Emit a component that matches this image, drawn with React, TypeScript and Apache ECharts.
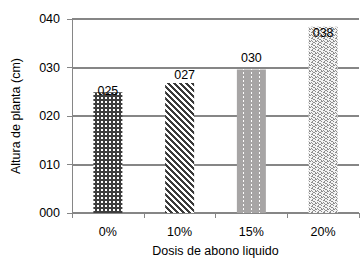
import React, { useEffect, useRef } from "react";
import * as echarts from "echarts";

const categories = ["0%", "10%", "15%", "20%"];
const heights = [24.9, 26.8, 29.6, 38.4];
const yMin = 0;
const yMax = 40;
const yStep = 10;
const xTitle = "Dosis de abono liquido";
const yTitle = "Altura de planta (cm)";

const FONT = "Liberation Sans, Arial, sans-serif";

function makeTile(rows: string[], colors: Record<string, string>): HTMLCanvasElement {
  const h = rows.length;
  const w = rows[0].length;
  const c = document.createElement("canvas");
  c.width = w;
  c.height = h;
  const ctx = c.getContext("2d")!;
  for (let y = 0; y < h; y++) {
    for (let x = 0; x < w; x++) {
      ctx.fillStyle = colors[rows[y][x]];
      ctx.fillRect(x, y, 1, 1);
    }
  }
  return c;
}

function patterns() {
  const p1 = makeTile(["DDDD", "DWWD", "DWWD", "DDDD"], { D: "#3e3e3e", W: "#ffffff" });
  const p2 = makeTile(
    ["DDDWWW", "WDDDWW", "WWDDDW", "WWWDDD", "DWWWDD", "DDWWWD"],
    { D: "#3a3a3a", W: "#ffffff" }
  );
  const p3 = makeTile(["GGGWGGGG", "GGGWGGGG", "GGGGGGGG", "GGGGGGGG"], {
    G: "#a7a5a5",
    W: "#ffffff",
  });
  const p4 = makeTile(
    ["WGGWWW", "GWWGWW", "GWWWWG", "WGGWWW", "WWWGWG", "GWWGGW"],
    { G: "#8e8e8e", W: "#f4f4f4" }
  );
  return [p1, p2, p3, p4];
}

const labelOffsets = [
  [0, 5],
  [5, -2],
  [0, -5],
  [0, 13],
];

const pad3 = (v: number) => String(Math.round(v)).padStart(3, "0");

export default function App() {
  const ref = useRef<HTMLDivElement>(null);
  useEffect(() => {
    if (!ref.current) return;
    const chart = echarts.init(ref.current, undefined, { renderer: "svg" });
    const pats = patterns();
    chart.setOption({
      animation: false,
      backgroundColor: "#ffffff",
      grid: { left: 72, right: 5, top: 19, bottom: 48 },
      xAxis: {
        type: "category",
        data: categories,
        name: xTitle,
        nameLocation: "middle",
        nameGap: 31,
        nameTextStyle: { fontFamily: FONT, fontSize: 12.5, color: "#000" },
        axisLine: { lineStyle: { color: "#868686", width: 1 } },
        axisTick: { show: true, length: 5, lineStyle: { color: "#868686" } },
        axisLabel: { fontFamily: FONT, fontSize: 12.5, color: "#000", margin: 12 },
      },
      yAxis: {
        type: "value",
        min: yMin,
        max: yMax,
        interval: yStep,
        name: yTitle,
        nameLocation: "middle",
        nameGap: 50,
        nameTextStyle: { fontFamily: FONT, fontSize: 12.5, color: "#000" },
        axisLine: { show: true, lineStyle: { color: "#868686", width: 1 } },
        axisTick: { show: true, length: 5, lineStyle: { color: "#868686" } },
        axisLabel: {
          fontFamily: FONT,
          fontSize: 12.5,
          color: "#000",
          margin: 12,
          formatter: (v: number) => pad3(v),
        },
        splitLine: { show: true, lineStyle: { color: "#868686", width: 2 } },
      },
      series: [
        {
          type: "bar",
          barWidth: 29,
          data: heights.map((v, i) => ({
            value: v,
            itemStyle: { color: { image: pats[i], repeat: "repeat" } },
            label: { offset: labelOffsets[i] },
          })),
          label: {
            show: true,
            position: "top",
            distance: 0,
            fontFamily: FONT,
            fontSize: 12.5,
            color: "#000",
            formatter: (p: any) => pad3(p.value),
          },
        },
      ],
    });
    return () => chart.dispose();
  }, []);
  return (
    <div
      ref={ref}
      style={{ position: "absolute", left: 0, top: 0, width: 364, height: 262, background: "#fff" }}
    />
  );
}
